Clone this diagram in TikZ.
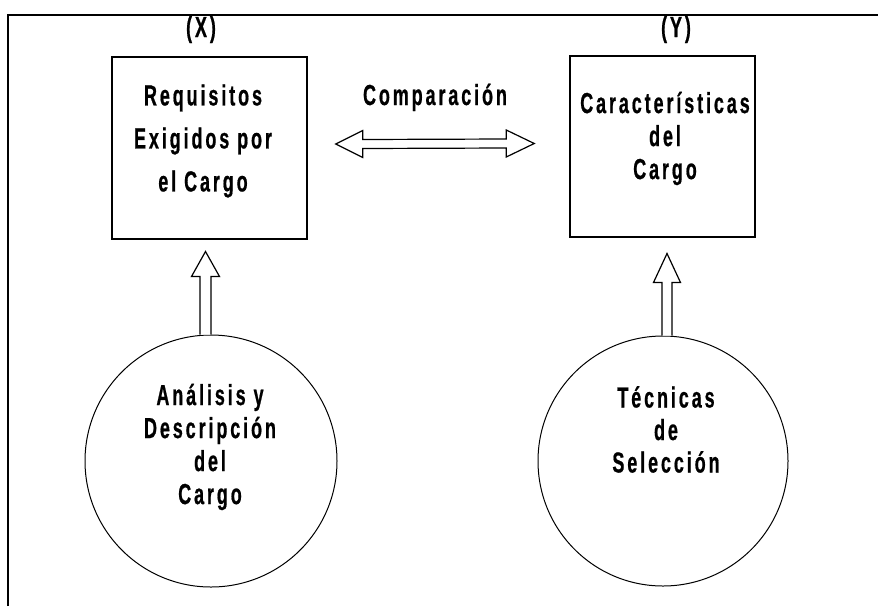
\documentclass[tikz,border=0pt]{standalone}
\usepackage{fontspec}
\newfontfamily\cf{Liberation Sans}[FakeStretch=0.62,LetterSpace=10,BoldFeatures={FakeBold=0.6}]
\usetikzlibrary{calc}
\begin{document}
\begin{tikzpicture}[x=1pt,y=-1pt,
  txt/.style={font=\cf\bfseries\fontsize{29}{#1}\selectfont, align=center, inner sep=0pt},
  txt/.default=33,
  box/.style={draw, line width=1.5pt, inner sep=0pt},
  circ/.style={draw, circle, line width=1pt, inner sep=0pt},
  hollow/.style={draw, line width=1.2pt, fill=white, line join=miter},
  frame/.style={line width=2.5pt}]
\useasboundingbox (0,0) rectangle (878,606);

% boxes and circles
\node[box, minimum width=195pt, minimum height=182pt] (req) at (209.5,148) {};
\node[box, minimum width=185pt, minimum height=181pt] (car) at (662.5,146.5) {};
\node[circ, minimum size=252pt] (ana) at (211,461) {};
\node[circ, minimum size=250pt] (tec) at (663,461) {};

% texts
\node[txt=43] (treq) at (203,141) {Requisitos\\Exigidos por\\el Cargo};
\node[txt] (tcar) at (665,138.5) {Características\\del\\Cargo};
\node[txt, anchor=base] (tcmp) at (435,105) {Comparación};
\node[txt] (tana) at (210,447) {Análisis y\\Descripción\\del\\Cargo};
\node[txt=32.5] (ttec) at (666,429.5) {Técnicas\\de\\Selección};
\node[txt, anchor=base] (tx) at (201,37) {(X)};
\node[txt, anchor=base] (ty) at (676,37) {(Y)};

% frame
\draw[frame] (8,606) -- (8,15) -- (878,15);

% double arrow (comparison)
\coordinate (dl) at ($(req.east)+(28,-4)$);
\coordinate (dr) at ($(car.west)+(-35,-3)$);
\draw[hollow] (dl) -- ++(27,-13.5) -- ++(0,9) -- ($(dr)+(-28,-4.5)$) -- ++(0,-9)
  -- (dr) -- ++(-28,13.5) -- ++(0,-9) -- ($(dl)+(27,4.5)$) -- ++(0,9) -- cycle;

% up arrows
\coordinate (ua) at ($(ana.north)+(-5.5,0)$);
\draw[hollow] ($(ua)+(-5.5,0)$) -- ($(ua)+(-5.5,-58)$) -- ($(ua)+(-14,-58)$)
  -- ($(ua)+(0,-83)$) -- ($(ua)+(14,-58)$) -- ($(ua)+(5.5,-58)$) -- ($(ua)+(5.5,0)$);
\coordinate (ub) at ($(tec.north)+(4,0)$);
\draw[hollow] ($(ub)+(-5,0)$) -- ($(ub)+(-5,-53)$) -- ($(ub)+(-13.5,-53)$)
  -- ($(ub)+(0,-82)$) -- ($(ub)+(13.5,-53)$) -- ($(ub)+(5,-53)$) -- ($(ub)+(5,0)$);
\end{tikzpicture}
\end{document}
